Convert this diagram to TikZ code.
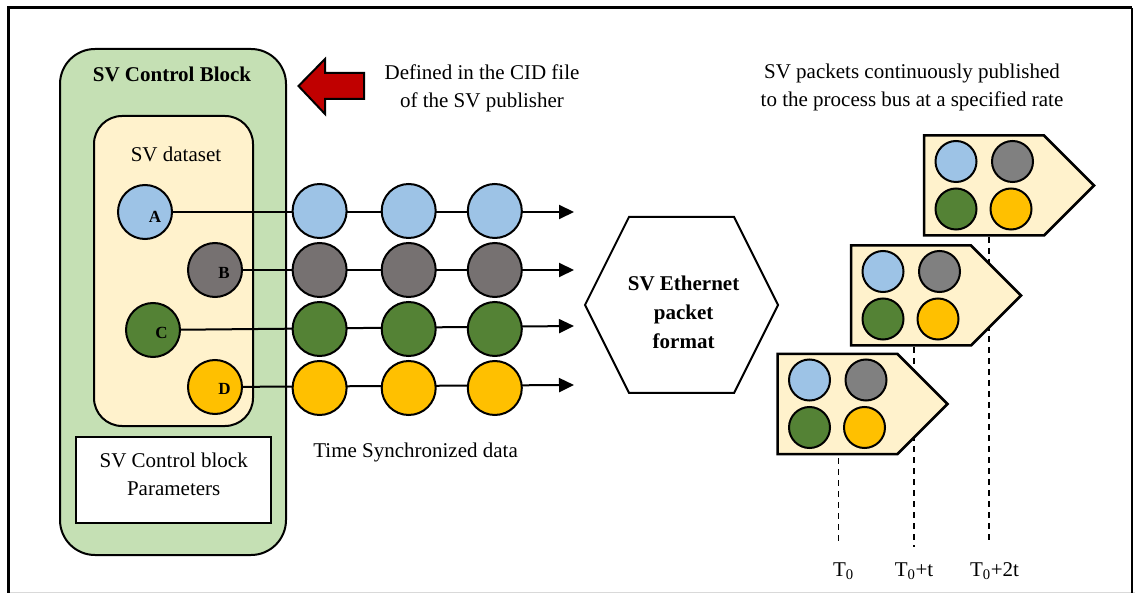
\documentclass[tikz,border=0pt]{standalone}
\usepackage{fontspec}
\setmainfont{Liberation Serif}
\usetikzlibrary{arrows.meta}
\definecolor{blockgreen}{HTML}{C5E0B4}
\definecolor{cream}{HTML}{FFF2CC}
\definecolor{svblue}{HTML}{9DC3E6}
\definecolor{svgray}{HTML}{767171}
\definecolor{pkgray}{HTML}{808080}
\definecolor{svgreen}{HTML}{548235}
\definecolor{svyellow}{HTML}{FFC000}
\definecolor{svred}{HTML}{C00000}
\begin{document}
\begin{tikzpicture}[x=1pt,y=-1pt,
  txt/.style={font=\fontsize{21}{28}\selectfont, align=center, inner sep=0pt},
  btxt/.style={font=\fontsize{21}{29}\selectfont\bfseries, align=center, inner sep=0pt},
  letter/.style={font=\fontsize{17}{20}\selectfont\bfseries, inner sep=0pt},
  dot/.style={circle, draw, line width=2pt, minimum size=54pt, inner sep=0pt},
  pdot/.style={circle, draw, line width=2pt, minimum size=41pt, inner sep=0pt},
  flow/.style={line width=2pt, -{Triangle[length=15pt,width=14pt]}},
  tick/.style={line width=1.4pt, dash pattern=on 6pt off 5pt},
  packet/.style={draw, line width=2.5pt, fill=cream, line join=miter}]
\useasboundingbox (0,0) rectangle (1135,593);

% outer frame
\draw[gray!30, line width=1pt] (8,592.5) -- (1135,592.5);
\draw[line width=3pt] (8,600) -- (8,8) -- (1132,8);
\draw[line width=1.8pt] (1132,8) -- (1132,600);

% SV control block and its dataset
\draw[fill=blockgreen, line width=2pt, rounded corners=35pt] (60,49) rectangle (286,555);
\node[btxt] (cb) at (172,74) {SV Control Block};
\draw[fill=cream, line width=2pt, rounded corners=28pt] (94,116) rectangle (253,426);
\node[txt] (ds) at (176,154) {SV dataset};
\node[draw, fill=white, line width=2pt, minimum width=194.5pt, minimum height=86pt, inner sep=0pt] (par) at (173.7,480) {};
\node[txt] (partxt) at (173.7,474) {SV Control block\\Parameters};

% red pointer
\draw[fill=svred, line width=2pt, line join=miter] (298.5,86) -- (325,59) -- (325,73) -- (364,73)
  -- (364,99) -- (325,99) -- (325,114) -- cycle;
\node[txt] (cid) at (482,88) {Defined in the CID file\\of the SV publisher};
\node[txt] (pub) at (912,87) {SV packets continuously published\\to the process bus at a specified rate};

% end points of the data streams
\coordinate (aend) at (574,212);
\coordinate (bend) at (574,270);
\coordinate (cend) at (574,326);
\coordinate (dend) at (574,385);

% streams drawn below the circles
\path (145,212) coordinate (Ac) (215,270) coordinate (Bc) (153,330) coordinate (Cc) (215,387) coordinate (Dc);
\draw[flow] (Ac) -- (aend);
\draw[flow] (Bc) -- (bend);
\draw[flow] (Cc) -- (cend);
\draw[flow] (Dc) -- (dend);

% dataset members
\node[dot, fill=svblue] (A) at (Ac) {};
\node[dot, fill=svgray] (B) at (Bc) {};
\node[dot, fill=svgreen] (C) at (Cc) {};
\node[dot, fill=svyellow] (D) at (Dc) {};
\node[letter] at (155,217) {A};
\node[letter] at (224,273) {B};
\node[letter] at (161.5,333) {C};
\node[letter] at (224.5,389) {D};

% time synchronized samples
\foreach \x [count=\i] in {319.6,408.7,494.8}{
  \node[dot, fill=svblue] (a\i) at (\x,211) {};
  \node[dot, fill=svgray] (b\i) at (\x,270) {};
  \node[dot, fill=svgreen] (c\i) at (\x,329) {};
  \node[dot, fill=svyellow] (d\i) at (\x,388) {};
}
\node[txt] (tsd) at (415.6,452) {Time Synchronized data};

% Ethernet frame format
\draw[line width=2pt, line join=miter] (629,217) -- (734,217) -- (778,305) -- (734,393) -- (629,393) -- (585,305) -- cycle;
\node[btxt] (eth) at (683.6,312) {SV Ethernet\\packet\\format};

% time marks
\node[txt, anchor=base] (t0) at (843.5,576) {T\textsubscript{0}};
\node[txt, anchor=base] (t1) at (914,576) {T\textsubscript{0}+t};
\node[txt, anchor=base] (t2) at (994.5,576) {T\textsubscript{0}+2t};
\coordinate (s0) at (838.7,458);
\coordinate (s1) at (914,347);
\coordinate (s2) at (989,237);
\draw[tick] (s0) -- (s0 |- 0,544);
\draw[tick] (s1) -- (s1 |- 0,547);
\draw[tick] (s2) -- (s2 |- 0,543);

% published packets
\foreach \n/\px/\py in {3/924/135.5, 2/851/245.5, 1/777.5/354}{
  \begin{scope}[shift={(\px,\py)}]
    \draw[packet] (0,0) -- (120,0) -- (170,50) -- (120,100) -- (0,100) -- cycle;
    \node[pdot, fill=svblue] (p\n a) at (32,26) {};
    \node[pdot, fill=pkgray] (p\n b) at (88.5,26) {};
    \node[pdot, fill=svgreen] (p\n c) at (32,73.5) {};
    \node[pdot, fill=svyellow] (p\n d) at (87,73.5) {};
  \end{scope}
}
\end{tikzpicture}
\end{document}
